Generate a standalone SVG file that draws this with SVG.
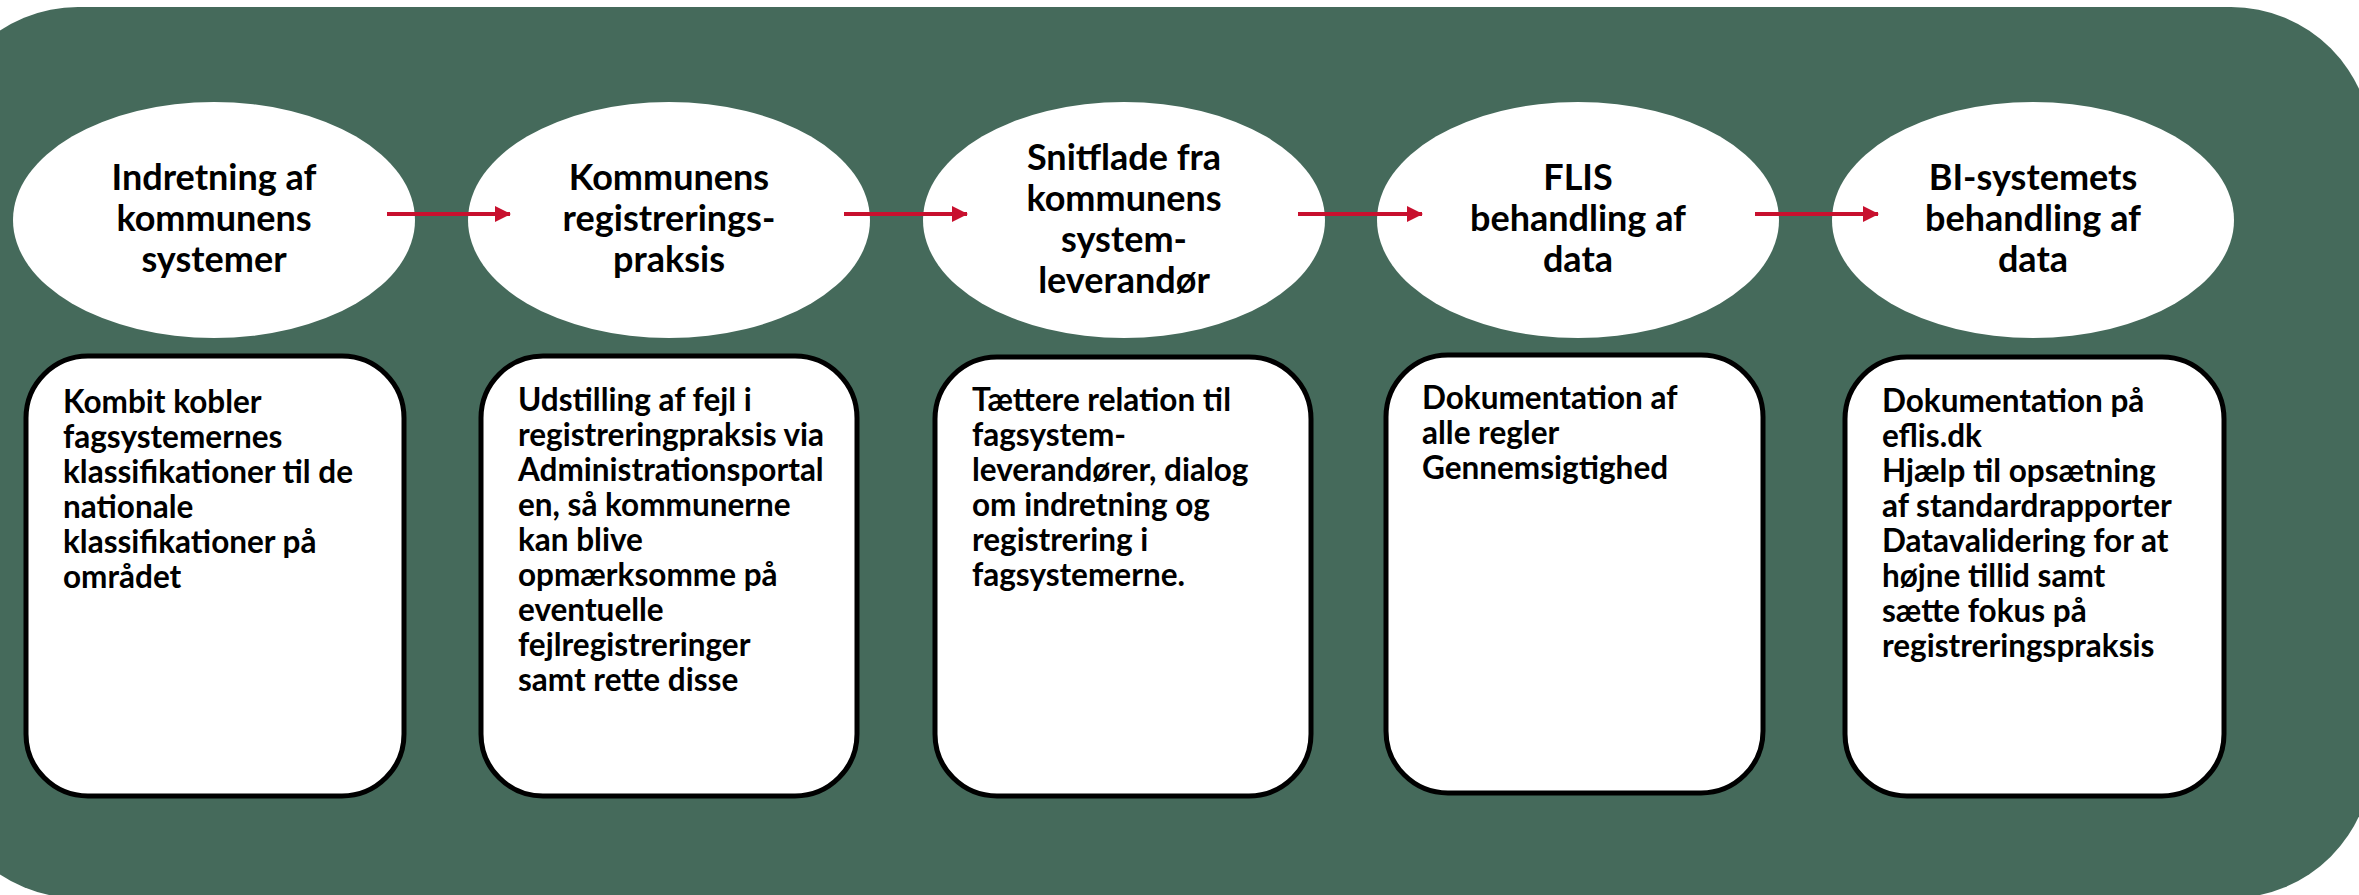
<svg xmlns="http://www.w3.org/2000/svg" width="2359" height="895" viewBox="0 0 2359 895">
<style>
.bg{fill:#456a5b}
.ell{fill:#ffffff}
.box{fill:#ffffff;stroke:#000000;stroke-width:5}
.et{font-family:Lato,"DejaVu Sans",sans-serif;font-weight:bold;font-size:36px;fill:#000;text-anchor:middle}
.bt{font-family:Lato,"DejaVu Sans",sans-serif;font-weight:bold;font-size:31.5px;fill:#000}
.arr{stroke:#c8102e;stroke-width:4;fill:none}
</style>
<defs>
<marker id="ah" markerUnits="userSpaceOnUse" markerWidth="16" markerHeight="16" refX="15" refY="8" orient="auto">
<path d="M0,0 L16,8 L0,16 Z" fill="#c8102e"/>
</marker>
</defs>
<rect class="bg" x="-63" y="7" width="2435" height="891" rx="141" ry="141"/>

<g id="e1"><ellipse class="ell" cx="214" cy="220" rx="201" ry="118"/>
<text class="et"><tspan x="214" y="190">Indretning af</tspan><tspan x="214" y="231">kommunens</tspan><tspan x="214" y="272">systemer</tspan></text></g>
<g id="e2"><ellipse class="ell" cx="669" cy="220" rx="201" ry="118"/>
<text class="et"><tspan x="669" y="190">Kommunens</tspan><tspan x="669" y="231">registrerings-</tspan><tspan x="669" y="272">praksis</tspan></text></g>
<g id="e3"><ellipse class="ell" cx="1124" cy="220" rx="201" ry="118"/>
<text class="et"><tspan x="1124" y="170">Snitflade fra</tspan><tspan x="1124" y="211">kommunens</tspan><tspan x="1124" y="252">system-</tspan><tspan x="1124" y="293">leverandør</tspan></text></g>
<g id="e4"><ellipse class="ell" cx="1578" cy="220" rx="201" ry="118"/>
<text class="et"><tspan x="1578" y="190">FLIS</tspan><tspan x="1578" y="231">behandling af</tspan><tspan x="1578" y="272">data</tspan></text></g>
<g id="e5"><ellipse class="ell" cx="2033" cy="220" rx="201" ry="118"/>
<text class="et"><tspan x="2033" y="190">BI-systemets</tspan><tspan x="2033" y="231">behandling af</tspan><tspan x="2033" y="272">data</tspan></text></g>

<g id="connectors">
<line class="arr" x1="387" y1="214" x2="510" y2="214" marker-end="url(#ah)"/>
<line class="arr" x1="844" y1="214" x2="967" y2="214" marker-end="url(#ah)"/>
<line class="arr" x1="1298" y1="214" x2="1422" y2="214" marker-end="url(#ah)"/>
<line class="arr" x1="1755" y1="214" x2="1878" y2="214" marker-end="url(#ah)"/>
</g>

<g id="b1"><rect class="box" x="26" y="356" width="378" height="440" rx="62" ry="62"/>
<text class="bt"><tspan x="63" y="413">Kombit kobler</tspan><tspan x="63" y="448">fagsystemernes</tspan><tspan x="63" y="483">klassifikationer til de</tspan><tspan x="63" y="518">nationale</tspan><tspan x="63" y="553">klassifikationer på</tspan><tspan x="63" y="588">området</tspan></text></g>
<g id="b2"><rect class="box" x="481" y="356" width="376" height="440" rx="62" ry="62"/>
<text class="bt"><tspan x="518" y="411">Udstilling af fejl i</tspan><tspan x="518" y="446">registreringpraksis via</tspan><tspan x="518" y="481">Administrationsportal</tspan><tspan x="518" y="516">en, så kommunerne</tspan><tspan x="518" y="551">kan blive</tspan><tspan x="518" y="586">opmærksomme på</tspan><tspan x="518" y="621">eventuelle</tspan><tspan x="518" y="656">fejlregistreringer</tspan><tspan x="518" y="691">samt rette disse</tspan></text></g>
<g id="b3"><rect class="box" x="935" y="357" width="376" height="439" rx="62" ry="62"/>
<text class="bt"><tspan x="972" y="411">Tættere relation til</tspan><tspan x="972" y="446">fagsystem-</tspan><tspan x="972" y="481">leverandører, dialog</tspan><tspan x="972" y="516">om indretning og</tspan><tspan x="972" y="551">registrering i</tspan><tspan x="972" y="586">fagsystemerne.</tspan></text></g>
<g id="b4"><rect class="box" x="1386" y="355" width="377" height="438" rx="62" ry="62"/>
<text class="bt"><tspan x="1422" y="409">Dokumentation af</tspan><tspan x="1422" y="444">alle regler</tspan><tspan x="1422" y="479">Gennemsigtighed</tspan></text></g>
<g id="b5"><rect class="box" x="1845" y="357" width="379" height="439" rx="62" ry="62"/>
<text class="bt"><tspan x="1882" y="412">Dokumentation på</tspan><tspan x="1882" y="447">eflis.dk</tspan><tspan x="1882" y="482">Hjælp til opsætning</tspan><tspan x="1882" y="517">af standardrapporter</tspan><tspan x="1882" y="552">Datavalidering for at</tspan><tspan x="1882" y="587">højne tillid samt</tspan><tspan x="1882" y="622">sætte fokus på</tspan><tspan x="1882" y="657">registreringspraksis</tspan></text></g>
</svg>
